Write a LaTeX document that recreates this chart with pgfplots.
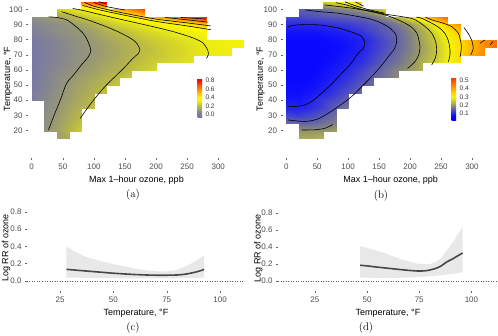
\documentclass[border=0pt]{standalone}
\usepackage{fontspec}
\newfontfamily\hv{Liberation Sans}
\usepackage{pgfplots}
\pgfplotsset{compat=1.18}

\pgfplotsset{
  gg/.style={scale only axis, axis line style={draw=none},
    tick align=outside, major tick length=2pt,
    tick style={black!60, line width=0.4pt},
    xtick pos=left, ytick pos=left,
    tick label style={font=\hv\fontsize{8}{9}\selectfont, text=black!70},
    label style={font=\hv\fontsize{9}{10}\selectfont},
    /pgf/number format/assume math mode=true},
  ylab/.style={ylabel style={at={(axis description cs:#1,0.5)}, anchor=center}},
  heat/.style={gg, view={0}{90}, ztick=\empty, unbounded coords=jump,
    xmin=-5.9, xmax=343, ymin=1.9, ymax=106.1,
    xtick={0,50,...,300}, ytick={20,30,...,100},
    xlabel={Max 1–hour ozone, ppb}, ylabel={Temperature, °F}},
  cbar/.style={axis line style={draw=none}, major tick length=0pt,
    yticklabel style={font=\hv\fontsize{6.5}{7}\selectfont, text=black!80,
      /pgf/number format/.cd, fixed, fixed zerofill, precision=1,
      assume math mode=true}},
  contour/.style={black, line width=0.6pt, smooth},
  rr/.style={gg, xmin=9.5, xmax=111.7, ymin=-0.12, ymax=0.88,
    xtick={25,50,75,100}, ytick={0,0.2,0.4,0.6,0.8},
    yticklabel style={/pgf/number format/.cd, fixed, fixed zerofill, precision=1},
    xlabel={Temperature, °F}, ylabel={Log RR of ozone}},
}

\pgfplotsset{colormap={ga}{rgb255(0pt)=(120,120,165) rgb255(6pt)=(120,120,165)
  rgb255(16pt)=(150,150,120) rgb255(26pt)=(185,185,70) rgb255(36pt)=(235,235,20)
  rgb255(46pt)=(255,250,0) rgb255(56pt)=(255,200,0) rgb255(66pt)=(255,140,0)
  rgb255(76pt)=(255,80,0) rgb255(86pt)=(255,10,0) rgb255(92pt)=(255,0,0)}}
\pgfplotsset{colormap={gb}{rgb255(0pt)=(0,0,255) rgb255(5pt)=(10,10,255)
  rgb255(8pt)=(35,35,240) rgb255(13pt)=(95,95,175) rgb255(18pt)=(150,150,105)
  rgb255(23pt)=(200,200,55) rgb255(28pt)=(245,245,10) rgb255(33pt)=(255,215,0)
  rgb255(38pt)=(255,170,0) rgb255(43pt)=(255,125,0) rgb255(48pt)=(255,80,10)
  rgb255(52pt)=(255,50,20)}}

\begin{document}
\begin{tikzpicture}
\path[use as bounding box] (0,0) rectangle (498pt,-335pt);

% (a) ozone effect surface
\begin{axis}[heat, ylab=-0.092, at={(28pt,-158pt)}, anchor=south west, width=217pt, height=158pt,
  colormap name=ga, point meta min=-0.06, point meta max=0.86, colorbar,
  colorbar style={cbar, at={(parent axis.south west)}, anchor=south west,
    xshift=161pt, yshift=41pt, width=4.5pt, height=39pt, ytick={0,0.2,0.4,0.6,0.8}}]
\addplot3[surf, shader=interp, mesh/cols=18] coordinates {
(0,15,nan)(20,15,nan)(40,15,0.13)(60,15,0.16)(80,15,nan)(100,15,nan)(120,15,nan)(140,15,nan)(160,15,nan)(180,15,nan)(200,15,nan)(220,15,nan)(240,15,nan)(260,15,nan)(280,15,nan)(300,15,nan)(320,15,nan)(340,15,nan)
(0,20,nan)(20,20,0.09)(40,20,0.13)(60,20,0.19)(80,20,0.24)(100,20,nan)(120,20,nan)(140,20,nan)(160,20,nan)(180,20,nan)(200,20,nan)(220,20,nan)(240,20,nan)(260,20,nan)(280,20,nan)(300,20,nan)(320,20,nan)(340,20,nan)
(0,25,nan)(20,25,0.075)(40,25,0.12)(60,25,0.17)(80,25,0.22)(100,25,nan)(120,25,nan)(140,25,nan)(160,25,nan)(180,25,nan)(200,25,nan)(220,25,nan)(240,25,nan)(260,25,nan)(280,25,nan)(300,25,nan)(320,25,nan)(340,25,nan)
(0,30,nan)(20,30,0.065)(40,30,0.11)(60,30,0.155)(80,30,0.20)(100,30,nan)(120,30,nan)(140,30,nan)(160,30,nan)(180,30,nan)(200,30,nan)(220,30,nan)(240,30,nan)(260,30,nan)(280,30,nan)(300,30,nan)(320,30,nan)(340,30,nan)
(0,35,nan)(20,35,0.06)(40,35,0.10)(60,35,0.14)(80,35,0.18)(100,35,0.22)(120,35,nan)(140,35,nan)(160,35,nan)(180,35,nan)(200,35,nan)(220,35,nan)(240,35,nan)(260,35,nan)(280,35,nan)(300,35,nan)(320,35,nan)(340,35,nan)
(0,40,0.02)(20,40,0.05)(40,40,0.09)(60,40,0.125)(80,40,0.16)(100,40,0.20)(120,40,nan)(140,40,nan)(160,40,nan)(180,40,nan)(200,40,nan)(220,40,nan)(240,40,nan)(260,40,nan)(280,40,nan)(300,40,nan)(320,40,nan)(340,40,nan)
(0,45,0.01)(20,45,0.04)(40,45,0.08)(60,45,0.115)(80,45,0.15)(100,45,0.18)(120,45,0.215)(140,45,nan)(160,45,nan)(180,45,nan)(200,45,nan)(220,45,nan)(240,45,nan)(260,45,nan)(280,45,nan)(300,45,nan)(320,45,nan)(340,45,nan)
(0,50,0.005)(20,50,0.035)(40,50,0.07)(60,50,0.11)(80,50,0.14)(100,50,0.17)(120,50,0.20)(140,50,0.225)(160,50,nan)(180,50,nan)(200,50,nan)(220,50,nan)(240,50,nan)(260,50,nan)(280,50,nan)(300,50,nan)(320,50,nan)(340,50,nan)
(0,55,0)(20,55,0.03)(40,55,0.065)(60,55,0.095)(80,55,0.125)(100,55,0.15)(120,55,0.18)(140,55,0.21)(160,55,0.235)(180,55,nan)(200,55,nan)(220,55,nan)(240,55,nan)(260,55,nan)(280,55,nan)(300,55,nan)(320,55,nan)(340,55,nan)
(0,60,0)(20,60,0.025)(40,60,0.055)(60,60,0.08)(80,60,0.105)(100,60,0.13)(120,60,0.16)(140,60,0.185)(160,60,0.21)(180,60,0.235)(200,60,0.26)(220,60,nan)(240,60,nan)(260,60,nan)(280,60,nan)(300,60,nan)(320,60,nan)(340,60,nan)
(0,65,0)(20,65,0.02)(40,65,0.045)(60,65,0.07)(80,65,0.095)(100,65,0.115)(120,65,0.14)(140,65,0.17)(160,65,0.20)(180,65,0.22)(200,65,0.24)(220,65,0.255)(240,65,0.27)(260,65,0.285)(280,65,nan)(300,65,nan)(320,65,nan)(340,65,nan)
(0,70,0)(20,70,0.02)(40,70,0.04)(60,70,0.065)(80,70,0.085)(100,70,0.105)(120,70,0.13)(140,70,0.155)(160,70,0.185)(180,70,0.21)(200,70,0.225)(220,70,0.245)(240,70,0.26)(260,70,0.28)(280,70,0.297)(300,70,0.31)(320,70,0.32)(340,70,nan)
(0,75,0)(20,75,0.02)(40,75,0.04)(60,75,0.065)(80,75,0.085)(100,75,0.105)(120,75,0.13)(140,75,0.155)(160,75,0.18)(180,75,0.205)(200,75,0.225)(220,75,0.245)(240,75,0.26)(260,75,0.28)(280,75,0.298)(300,75,0.315)(320,75,0.33)(340,75,0.345)
(0,80,0.005)(20,80,0.025)(40,80,0.045)(60,80,0.07)(80,80,0.09)(100,80,0.115)(120,80,0.14)(140,80,0.17)(160,80,0.197)(180,80,0.22)(200,80,0.24)(220,80,0.255)(240,80,0.275)(260,80,0.29)(280,80,0.305)(300,80,0.32)(320,80,0.335)(340,80,0.35)
(0,85,0.02)(20,85,0.045)(40,85,0.07)(60,85,0.085)(80,85,0.10)(100,85,0.135)(120,85,0.17)(140,85,0.20)(160,85,0.225)(180,85,0.25)(200,85,0.27)(220,85,0.29)(240,85,0.31)(260,85,0.335)(280,85,0.37)(300,85,nan)(320,85,nan)(340,85,nan)
(0,90,0.04)(20,90,0.055)(40,90,0.075)(60,90,0.10)(80,90,0.14)(100,90,0.18)(120,90,0.22)(140,90,0.25)(160,90,0.275)(180,90,0.30)(200,90,0.335)(220,90,0.37)(240,90,0.405)(260,90,0.46)(280,90,0.53)(300,90,nan)(320,90,nan)(340,90,nan)
(0,95,0.08)(20,95,0.10)(40,95,0.13)(60,95,0.175)(80,95,0.215)(100,95,0.255)(120,95,0.29)(140,95,0.34)(160,95,0.39)(180,95,0.47)(200,95,0.54)(220,95,0.60)(240,95,0.65)(260,95,0.70)(280,95,0.76)(300,95,nan)(320,95,nan)(340,95,nan)
(0,100,nan)(20,100,nan)(40,100,0.25)(60,100,0.28)(80,100,0.31)(100,100,0.37)(120,100,0.45)(140,100,0.54)(160,100,0.63)(180,100,0.72)(200,100,nan)(220,100,nan)(240,100,nan)(260,100,nan)(280,100,nan)(300,100,nan)(320,100,nan)(340,100,nan)
(0,105,nan)(20,105,nan)(40,105,nan)(60,105,nan)(80,105,0.62)(100,105,0.72)(120,105,0.80)(140,105,nan)(160,105,nan)(180,105,nan)(200,105,nan)(220,105,nan)(240,105,nan)(260,105,nan)(280,105,nan)(300,105,nan)(320,105,nan)(340,105,nan)
};
\addplot[contour] coordinates {(27,20.4) (36,30) (46,40) (56,51) (68,57) (80,63.3) (90,68) (95,72) (94,75) (89,80) (83,84) (70,89) (56,93) (40,94.6) (27,95)};
\addplot[contour] coordinates {(78,28) (90,35) (104,42.4) (120,50) (137,56.7) (150,62) (163,67.7) (172,71) (174,73.2) (170,77) (163,79.8) (145,84) (120,88.5) (90,93) (70,95.5) (48,98.4)};
\addplot[contour] coordinates {(281,67.7) (284,70) (283,73) (276,77.6) (260,81) (228,85.2) (190,89) (147,93) (110,96.5) (85,99) (66,100.5)};
\addplot[contour] coordinates {(288,86.5) (250,89) (200,92) (150,96) (110,99.5) (82,102.5)};
\addplot[contour] coordinates {(288,89) (250,91) (200,93.5) (160,96.5) (130,99) (100,102) (85,104.5)};
\addplot[contour] coordinates {(284,91.5) (250,93) (215,94.6)};
\addplot[contour] coordinates {(150,99.5) (120,101.8) (100,104.5)};
\addplot[contour] coordinates {(280,93.5) (240,94.6)};
\addplot[contour] coordinates {(120,103.5) (108,105)};
\end{axis}

% (b)
\begin{axis}[heat, ylab=-0.102, at={(282.6pt,-158pt)}, anchor=south west, width=216pt, height=158pt,
  colormap name=gb, point meta min=0.02, point meta max=0.54, colorbar,
  colorbar style={cbar, at={(parent axis.south west)}, anchor=south west,
    xshift=160.5pt, yshift=38pt, width=4.5pt, height=43pt, ytick={0.1,0.2,0.3,0.4,0.5}}]
\addplot3[surf, shader=interp, mesh/cols=18] coordinates {
(0,15,nan)(20,15,0.22)(40,15,0.22)(60,15,0.23)(80,15,nan)(100,15,nan)(120,15,nan)(140,15,nan)(160,15,nan)(180,15,nan)(200,15,nan)(220,15,nan)(240,15,nan)(260,15,nan)(280,15,nan)(300,15,nan)(320,15,nan)(340,15,nan)
(0,20,nan)(20,20,0.20)(40,20,0.20)(60,20,0.20)(80,20,0.21)(100,20,nan)(120,20,nan)(140,20,nan)(160,20,nan)(180,20,nan)(200,20,nan)(220,20,nan)(240,20,nan)(260,20,nan)(280,20,nan)(300,20,nan)(320,20,nan)(340,20,nan)
(0,25,0.16)(20,25,0.155)(40,25,0.155)(60,25,0.165)(80,25,0.18)(100,25,nan)(120,25,nan)(140,25,nan)(160,25,nan)(180,25,nan)(200,25,nan)(220,25,nan)(240,25,nan)(260,25,nan)(280,25,nan)(300,25,nan)(320,25,nan)(340,25,nan)
(0,30,0.125)(20,30,0.12)(40,30,0.13)(60,30,0.145)(80,30,0.165)(100,30,nan)(120,30,nan)(140,30,nan)(160,30,nan)(180,30,nan)(200,30,nan)(220,30,nan)(240,30,nan)(260,30,nan)(280,30,nan)(300,30,nan)(320,30,nan)(340,30,nan)
(0,35,0.10)(20,35,0.10)(40,35,0.11)(60,35,0.125)(80,35,0.15)(100,35,0.175)(120,35,nan)(140,35,nan)(160,35,nan)(180,35,nan)(200,35,nan)(220,35,nan)(240,35,nan)(260,35,nan)(280,35,nan)(300,35,nan)(320,35,nan)(340,35,nan)
(0,40,0.085)(20,40,0.085)(40,40,0.10)(60,40,0.12)(80,40,0.135)(100,40,0.155)(120,40,nan)(140,40,nan)(160,40,nan)(180,40,nan)(200,40,nan)(220,40,nan)(240,40,nan)(260,40,nan)(280,40,nan)(300,40,nan)(320,40,nan)(340,40,nan)
(0,45,0.075)(20,45,0.075)(40,45,0.085)(60,45,0.10)(80,45,0.12)(100,45,0.14)(120,45,0.16)(140,45,nan)(160,45,nan)(180,45,nan)(200,45,nan)(220,45,nan)(240,45,nan)(260,45,nan)(280,45,nan)(300,45,nan)(320,45,nan)(340,45,nan)
(0,50,0.07)(20,50,0.07)(40,50,0.075)(60,50,0.09)(80,50,0.11)(100,50,0.125)(120,50,0.145)(140,50,0.16)(160,50,nan)(180,50,nan)(200,50,nan)(220,50,nan)(240,50,nan)(260,50,nan)(280,50,nan)(300,50,nan)(320,50,nan)(340,50,nan)
(0,55,0.065)(20,55,0.065)(40,55,0.07)(60,55,0.08)(80,55,0.097)(100,55,0.115)(120,55,0.133)(140,55,0.152)(160,55,0.17)(180,55,0.19)(200,55,nan)(220,55,nan)(240,55,nan)(260,55,nan)(280,55,nan)(300,55,nan)(320,55,nan)(340,55,nan)
(0,60,0.065)(20,60,0.065)(40,60,0.065)(60,60,0.075)(80,60,0.09)(100,60,0.105)(120,60,0.125)(140,60,0.145)(160,60,0.165)(180,60,0.185)(200,60,0.205)(220,60,0.23)(240,60,nan)(260,60,nan)(280,60,nan)(300,60,nan)(320,60,nan)(340,60,nan)
(0,65,0.065)(20,65,0.065)(40,65,0.065)(60,65,0.07)(80,65,0.08)(100,65,0.095)(120,65,0.11)(140,65,0.13)(160,65,0.152)(180,65,0.17)(200,65,0.19)(220,65,0.225)(240,65,0.255)(260,65,0.295)(280,65,0.34)(300,65,nan)(320,65,nan)(340,65,nan)
(0,70,0.065)(20,70,0.065)(40,70,0.065)(60,70,0.068)(80,70,0.075)(100,70,0.088)(120,70,0.103)(140,70,0.123)(160,70,0.143)(180,70,0.165)(200,70,0.185)(220,70,0.215)(240,70,0.245)(260,70,0.29)(280,70,0.345)(300,70,0.40)(320,70,0.44)(340,70,nan)
(0,75,0.065)(20,75,0.065)(40,75,0.065)(60,75,0.067)(80,75,0.072)(100,75,0.082)(120,75,0.097)(140,75,0.117)(160,75,0.135)(180,75,0.157)(200,75,0.18)(220,75,0.21)(240,75,0.245)(260,75,0.29)(280,75,0.34)(300,75,0.39)(320,75,0.43)(340,75,0.47)
(0,80,0.07)(20,80,0.068)(40,80,0.068)(60,80,0.07)(80,80,0.076)(100,80,0.085)(120,80,0.097)(140,80,0.115)(160,80,0.135)(180,80,0.155)(200,80,0.18)(220,80,0.215)(240,80,0.25)(260,80,0.295)(280,80,0.345)(300,80,0.39)(320,80,0.43)(340,80,0.47)
(0,85,0.08)(20,85,0.08)(40,85,0.08)(60,85,0.085)(80,85,0.092)(100,85,0.099)(120,85,0.112)(140,85,0.13)(160,85,0.145)(180,85,0.16)(200,85,0.185)(220,85,0.22)(240,85,0.265)(260,85,0.315)(280,85,0.37)(300,85,nan)(320,85,nan)(340,85,nan)
(0,90,0.105)(20,90,0.105)(40,90,0.105)(60,90,0.11)(80,90,0.115)(100,90,0.122)(120,90,0.13)(140,90,0.14)(160,90,0.152)(180,90,0.175)(200,90,0.205)(220,90,0.245)(240,90,0.30)(260,90,0.37)(280,90,0.43)(300,90,nan)(320,90,nan)(340,90,nan)
(0,95,0.13)(20,95,0.13)(40,95,0.135)(60,95,0.14)(80,95,0.145)(100,95,0.148)(120,95,0.152)(140,95,0.17)(160,95,0.195)(180,95,0.24)(200,95,0.28)(220,95,0.35)(240,95,0.42)(260,95,0.48)(280,95,nan)(300,95,nan)(320,95,nan)(340,95,nan)
(0,100,nan)(20,100,0.15)(40,100,0.155)(60,100,0.165)(80,100,0.18)(100,100,0.19)(120,100,0.205)(140,100,0.235)(160,100,0.265)(180,100,nan)(200,100,nan)(220,100,nan)(240,100,nan)(260,100,nan)(280,100,nan)(300,100,nan)(320,100,nan)(340,100,nan)
(0,105,nan)(20,105,nan)(40,105,nan)(60,105,0.25)(80,105,0.28)(100,105,0.32)(120,105,0.36)(140,105,nan)(160,105,nan)(180,105,nan)(200,105,nan)(220,105,nan)(240,105,nan)(260,105,nan)(280,105,nan)(300,105,nan)(320,105,nan)(340,105,nan)
};
\addplot[contour] coordinates {(3,88.6) (19,89.7) (52,89.7) (80,88) (95,86.4) (112,84) (122,82) (127,77.6) (124,74) (116,71) (104,64) (89.5,57.8) (74,51) (57,44.6) (44,40) (30,36.9) (15,35.9) (3,35.8)};
\addplot[contour] coordinates {(3,27) (30,26) (50,27.5) (68,31.4) (88,37) (105.6,42.4) (122,49) (138,55.6) (152,62) (165,68.8) (174,73.5) (178,77.6) (178,81) (176,84) (166,88) (154,90.8) (136,93.5) (116,95.2) (85,97.3) (52,98.5) (30,99.6)};
\addplot[contour] coordinates {(25,20.4) (45,20.5) (62.5,21.5) (75,24)};
\addplot[contour] coordinates {(196,61) (208,65.5) (214,70) (216,75.4) (214,80) (211,84.2) (203,88) (192,90.8) (178,93.5) (159.5,96.3) (130,99) (106,100.7) (80,102) (62,102.8)};
\addplot[contour] coordinates {(235,63.3) (241,68) (243,73.2) (241,79) (235,84.2) (226,88) (213,91.9) (200,94.2) (160,96.8) (140,98.5) (120,100) (100,102.5) (80,104.4)};
\addplot[contour] coordinates {(262,65.5) (264.5,70) (264.5,73.2) (262,79) (256,84.2) (248,87.5) (240,89.7) (219,94) (210,94.8)};
\addplot[contour] coordinates {(158,97.5) (135,99.5) (118,101.5) (100,104) (95,105)};
\addplot[contour] coordinates {(281,68.8) (283,75.4) (281,80) (278,84.2) (267,88.6) (252,91) (235,93) (225,94.8)};
\addplot[contour] coordinates {(125,102) (112,104.8)};
\addplot[contour] coordinates {(298,70) (302,74) (300,79) (294,84) (287,88)};
\addplot[contour] coordinates {(313,77.6) (321,79.8)};
\addplot[contour] coordinates {(329,76.5) (334,78.7)};
\end{axis}

% (c)
\begin{axis}[rr, ylab=-0.096, at={(27pt,-291.4pt)}, anchor=south west, width=218pt, height=86.6pt]
\addplot[fill=gray!18, draw=none] coordinates {(28,0.40) (30,0.37) (32,0.34) (34,0.315) (36,0.29) (38,0.272) (40,0.26) (44,0.23) (47,0.212) (50,0.195) (55,0.17) (59,0.15) (62,0.137) (65,0.125) (68,0.117) (72,0.11) (75,0.112) (77,0.115) (80,0.13) (83,0.16) (86,0.195) (89,0.24) (91,0.27) (92.5,0.30)
  (92.5,0.04) (85,0.035) (75,0.03) (60,0.03) (40,0.035) (28,0.04)} -- cycle;
\addplot[black!65, dotted, line width=0.5pt] coordinates {(9.5,0) (111.7,0)};
\addplot[black!72, line width=1.6pt, smooth] coordinates {(28,0.135) (35,0.12) (40,0.11) (45,0.10) (50,0.09) (55,0.082) (60,0.075) (65,0.07) (70,0.067) (75,0.067) (80,0.07) (84,0.08) (88,0.10) (91,0.12) (92.5,0.135)};
\end{axis}

% (d)
\begin{axis}[rr, ylab=-0.089, at={(278pt,-291.2pt)}, anchor=south west, width=220pt, height=85pt, xmin=7.4, xmax=112.7]
\addplot[fill=gray!18, draw=none] coordinates {(46.7,0.41) (50,0.39) (55,0.355) (58,0.33) (62.6,0.29) (66,0.26) (70,0.23) (73,0.21) (75.4,0.20) (78,0.197) (80,0.2) (82,0.215) (84,0.24) (86,0.285) (88.2,0.36) (90,0.42) (91.5,0.47) (93,0.53) (94.5,0.59) (95.8,0.64)
  (95.8,0.10) (92,0.087) (88,0.075) (84,0.065) (80,0.055) (75,0.047) (70,0.04) (60,0.035) (46.7,0.04)} -- cycle;
\addplot[black!65, dotted, line width=0.5pt] coordinates {(7.4,0) (112.7,0)};
\addplot[black!72, line width=1.6pt, smooth] coordinates {(46.7,0.185) (50,0.178) (55,0.163) (60,0.15) (65,0.137) (70,0.125) (74,0.118) (78,0.12) (81.8,0.14) (85,0.17) (88.2,0.225) (91,0.26) (93,0.29) (95.8,0.33)};
\end{axis}

\node[font=\fontsize{11}{12}\selectfont] at (133pt,-195pt) {(a)};
\node[font=\fontsize{11}{12}\selectfont] at (381pt,-196pt) {(b)};
\node[font=\fontsize{11}{12}\selectfont] at (133pt,-328pt) {(c)};
\node[font=\fontsize{11}{12}\selectfont] at (366pt,-328pt) {(d)};
\end{tikzpicture}
\end{document}
